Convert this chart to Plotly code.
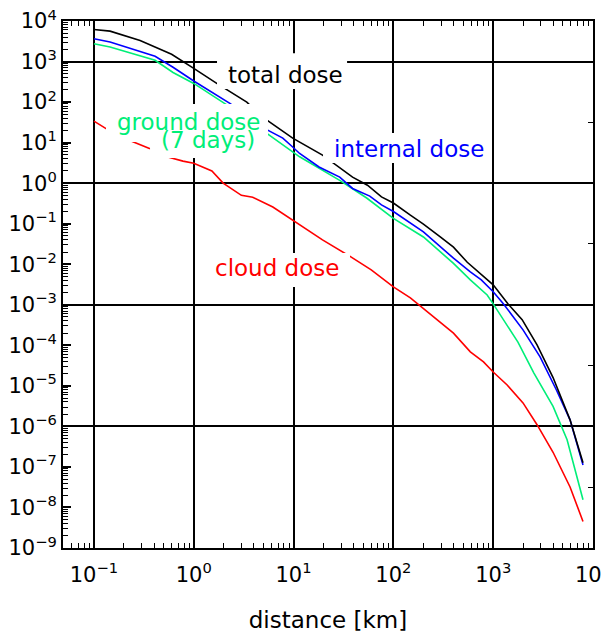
import plotly.graph_objects as go

# ---- data (distance in km, dose) ----
total_x = [0.1, 0.145, 0.29, 0.6, 1.0, 1.7, 3.4, 4.9, 9.8, 19.5, 39, 55, 76, 100, 148, 200, 295, 400,
           550, 800, 1000, 1410, 1950, 2750, 3980, 5890, 7940]
total_y = [6170, 5620, 3310, 1510, 676, 288, 100, 42.7, 12.9, 4.9, 1.41, 0.89, 0.457, 0.324, 0.162,
           0.098, 0.047, 0.0263, 0.0112, 0.0049, 0.0031, 1.05e-3, 4.3e-4, 1.02e-4, 1.6e-5, 1.45e-6, 1.26e-7]

internal_x = [0.1, 0.145, 0.41, 0.62, 1.0, 2.3, 5.1, 7.8, 9.8, 11.5, 18, 29, 39, 58, 76, 100, 200, 400,
              590, 760, 1000, 1270, 1990, 2950, 4300, 5890, 7940]
internal_y = [3630, 3020, 1350, 724, 331, 93, 22.4, 12.9, 7.8, 5.4, 2.5, 1.41, 0.74, 0.48, 0.29, 0.2,
              0.063, 0.0141, 0.00646, 0.0041, 0.0021, 1.05e-3, 2.4e-4, 5.2e-5, 7.9e-6, 1.45e-6, 1.12e-7]

ground_x = [0.1, 0.145, 0.41, 0.62, 1.0, 1.35, 2.3, 5.1, 9.8, 11.5, 29, 54, 100, 200, 400, 590, 870,
            1000, 1770, 2550, 3980, 5500, 7940]
ground_y = [2750, 2290, 1070, 537, 288, 178, 75.9, 18.6, 5.9, 4.47, 1.17, 0.43, 0.135, 0.047, 0.0105,
            0.0041, 0.00174, 1.05e-3, 1.2e-4, 2.1e-5, 3.1e-6, 4.7e-7, 1.55e-8]

cloud_x = [0.1, 0.17, 0.36, 0.55, 0.78, 1.0, 1.52, 1.97, 3.0, 3.9, 6.2, 9.8, 19.5, 36.5, 60, 100, 148,
           400, 590, 800, 1000, 1380, 1990, 2750, 3980, 5890, 7940]
cloud_y = [33.9, 15.1, 7.2, 4.4, 3.5, 3.1, 2.0, 1.0, 0.5, 0.447, 0.257, 0.123, 0.0398, 0.0158,
           0.00724, 0.00275, 0.00148, 2.0e-4, 6.9e-5, 3.9e-5, 2.2e-5, 1.05e-5, 3.8e-6, 1.1e-6,
           2.3e-7, 3.2e-8, 4.5e-9]

x_tick_vals = [0.1, 1, 10, 100, 1000, 10000]
x_tick_text = ["10<sup>\u22121</sup>", "10<sup>0</sup>", "10<sup>1</sup>", "10<sup>2</sup>",
               "10<sup>3</sup>", "10<sup>4</sup>"]
y_exponents = list(range(-9, 5))
y_tick_vals = [10.0 ** k for k in y_exponents]
y_tick_text = ["10<sup>" + str(k).replace("-", "\u2212") + "</sup>" for k in y_exponents]
y_grid_vals = [1e3, 1.0, 1e-3, 1e-6]
y_right_tick_vals = [10 ** 1.5, 10 ** -1.5, 10 ** -4.5, 10 ** -7.5]

series_names = ["total dose", "internal dose", "ground dose", "cloud dose"]
colors = ["#000000", "#0000ff", "#00ee78", "#ff0000"]

FONT = "DejaVu Sans"

x_minor = [m * 10.0 ** k for k in range(-2, 4) for m in range(2, 10)]
x_minor = [v for v in x_minor if 10 ** -1.31 < v < 1e4]
y_minor = [m * 10.0 ** k for k in range(-9, 4) for m in range(2, 10)]

fig = go.Figure()
series = [(cloud_x, cloud_y, series_names[3], colors[3]),
          (ground_x, ground_y, series_names[2], colors[2]),
          (internal_x, internal_y, series_names[1], colors[1]),
          (total_x, total_y, series_names[0], colors[0])]
for i, (xs, ys, name, c) in enumerate(series):
    fig.add_trace(go.Scatter(x=xs, y=ys, mode="lines", name=name,
                             line=dict(color=c, width=1.6), showlegend=False,
                             yaxis="y" if i == 0 else "y2"))

fig.update_layout(
    width=609, height=635,
    margin=dict(l=55, r=24, t=13, b=95, autoexpand=False),
    paper_bgcolor="white", plot_bgcolor="white",
    font=dict(family=FONT, color="black"),
    xaxis=dict(type="log", range=[-1.31, 4.0], tickmode="array", tickvals=x_tick_vals,
               ticktext=x_tick_text, ticks="inside", ticklen=8, tickwidth=1.5, tickcolor="black",
               tickfont=dict(size=21, family=FONT), showline=True, linewidth=2, linecolor="black",
               mirror="ticks", showgrid=True, gridcolor="black", gridwidth=2, zeroline=False,
               automargin=False, ticklabelstandoff=7, ticklabeloverflow="allow",
               minor=dict(tickmode="array", tickvals=x_minor, ticks="inside", ticklen=5,
                          tickwidth=1.2, tickcolor="black", showgrid=False),
               title=dict(text="distance [km]", font=dict(size=23, family=FONT), standoff=26)),
    yaxis=dict(type="log", range=[-9, 4], tickmode="array", tickvals=y_tick_vals,
               ticktext=y_tick_text, ticks="inside", ticklen=8, tickwidth=1.5, tickcolor="black",
               tickfont=dict(size=21, family=FONT), showline=True, linewidth=2, linecolor="black",
               showgrid=False, zeroline=False, automargin=False, ticklabeloverflow="allow",
               minor=dict(tickmode="array", tickvals=y_minor, ticks="inside", ticklen=5,
                          tickwidth=1.2, tickcolor="black", showgrid=False)),
    yaxis2=dict(type="log", range=[-9, 4], overlaying="y", side="right", anchor="x",
                tickmode="array", tickvals=y_grid_vals, ticks="", showticklabels=False,
                showline=True, linewidth=2, linecolor="black", automargin=False,
                showgrid=True, gridcolor="black", gridwidth=2, zeroline=False,
                minor=dict(tickmode="array", tickvals=y_right_tick_vals, ticks="inside", ticklen=5,
                           tickwidth=1.2, tickcolor="black", showgrid=False)),
)

# white masks (paper coords) that blank the lines behind each label, as in the reference
masks = [
    (0.2906, 0.5360, 0.871, 0.939),   # total dose
    (0.4906, 0.8057, 0.7306, 0.7875),  # internal dose
    (0.0811, 0.3868, 0.7704, 0.8425),  # ground dose
    (0.1642, 0.3755, 0.7400, 0.7837),  # (7 days)
    (0.2679, 0.5415, 0.4953, 0.5598),  # cloud dose
]
for x0, x1, y0, y1 in masks:
    fig.add_shape(type="rect", xref="paper", yref="paper", x0=x0, x1=x1, y0=y0, y1=y1,
                  fillcolor="white", line=dict(width=0), layer="above")

labels = [
    ("total dose", 0.4198, 0.8975, colors[0]),
    ("internal dose", 0.6528, 0.757, colors[1]),
    ("ground dose", 0.2377, 0.8083, colors[2]),
    ("(7 days)", 0.2736, 0.7742, colors[2]),
    ("cloud dose", 0.4047, 0.5313, colors[3]),
]
for text, xp, yp, c in labels:
    fig.add_annotation(text=text, x=xp, y=yp, xref="paper", yref="paper", showarrow=False,
                       xanchor="center", yanchor="middle", font=dict(size=23, family=FONT, color=c))

fig.write_html("out.html")
